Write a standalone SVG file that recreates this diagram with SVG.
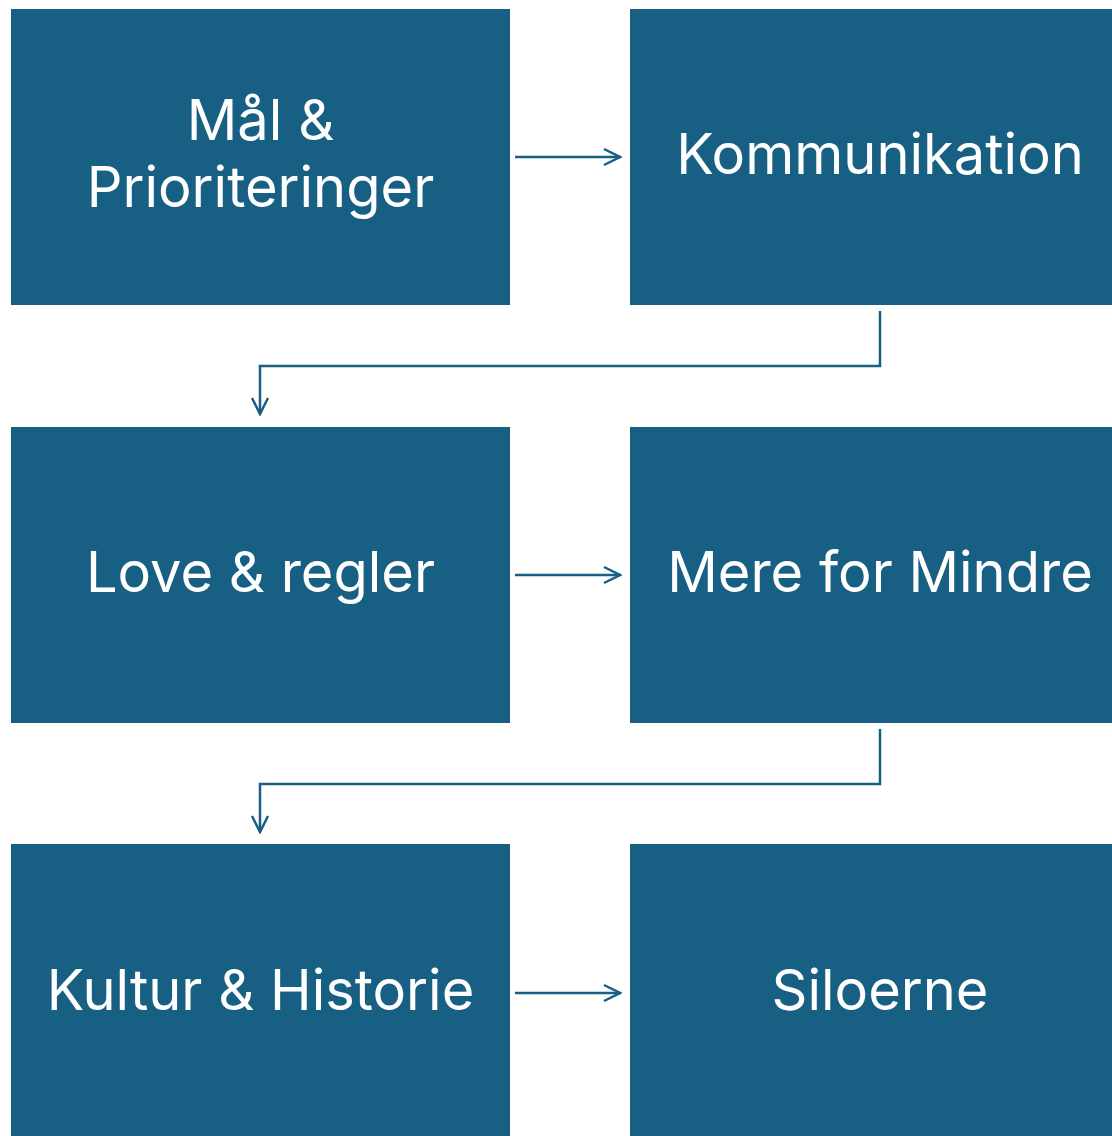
<svg xmlns="http://www.w3.org/2000/svg" width="1112" height="1136" viewBox="0 0 1112 1136">
<defs>
<style>
.box{fill:#176083}
.t{font-family:Inter,"Open Sans",sans-serif;font-size:56px;fill:#ffffff;text-anchor:middle}
.c{fill:none;stroke:#176083;stroke-width:2.5}
</style>
<marker id="ah" viewBox="0 0 20 20" refX="18" refY="10" markerWidth="20" markerHeight="20" markerUnits="userSpaceOnUse" orient="auto">
<path d="M2,2 L18,10 L2,18" fill="none" stroke="#176083" stroke-width="2.5"/>
</marker>
</defs>
<rect width="1112" height="1136" fill="#ffffff"/>
<g id="n1"><rect class="box" x="11" y="9" width="499" height="296"/><text class="t" x="260.5" y="140">Mål &amp;</text><text class="t" x="260.5" y="207">Prioriteringer</text></g>
<g id="n2"><rect class="box" x="630" y="9" width="500" height="296"/><text class="t" x="880" y="174">Kommunikation</text></g>
<g id="n3"><rect class="box" x="11" y="427" width="499" height="296"/><text class="t" x="260.5" y="592">Love &amp; regler</text></g>
<g id="n4"><rect class="box" x="630" y="427" width="500" height="296"/><text class="t" x="880" y="592">Mere for Mindre</text></g>
<g id="n5"><rect class="box" x="11" y="844" width="499" height="296"/><text class="t" x="260.5" y="1010">Kultur &amp; Historie</text></g>
<g id="n6"><rect class="box" x="630" y="844" width="500" height="296"/><text class="t" x="880" y="1010">Siloerne</text></g>
<g id="connectors">
<path class="c" d="M515,157 H620" marker-end="url(#ah)"/>
<path class="c" d="M880,311 V366 H260 V414" marker-end="url(#ah)"/>
<path class="c" d="M515,575 H620" marker-end="url(#ah)"/>
<path class="c" d="M880,729 V784 H260 V832" marker-end="url(#ah)"/>
<path class="c" d="M515,993 H620" marker-end="url(#ah)"/>
</g>
</svg>
